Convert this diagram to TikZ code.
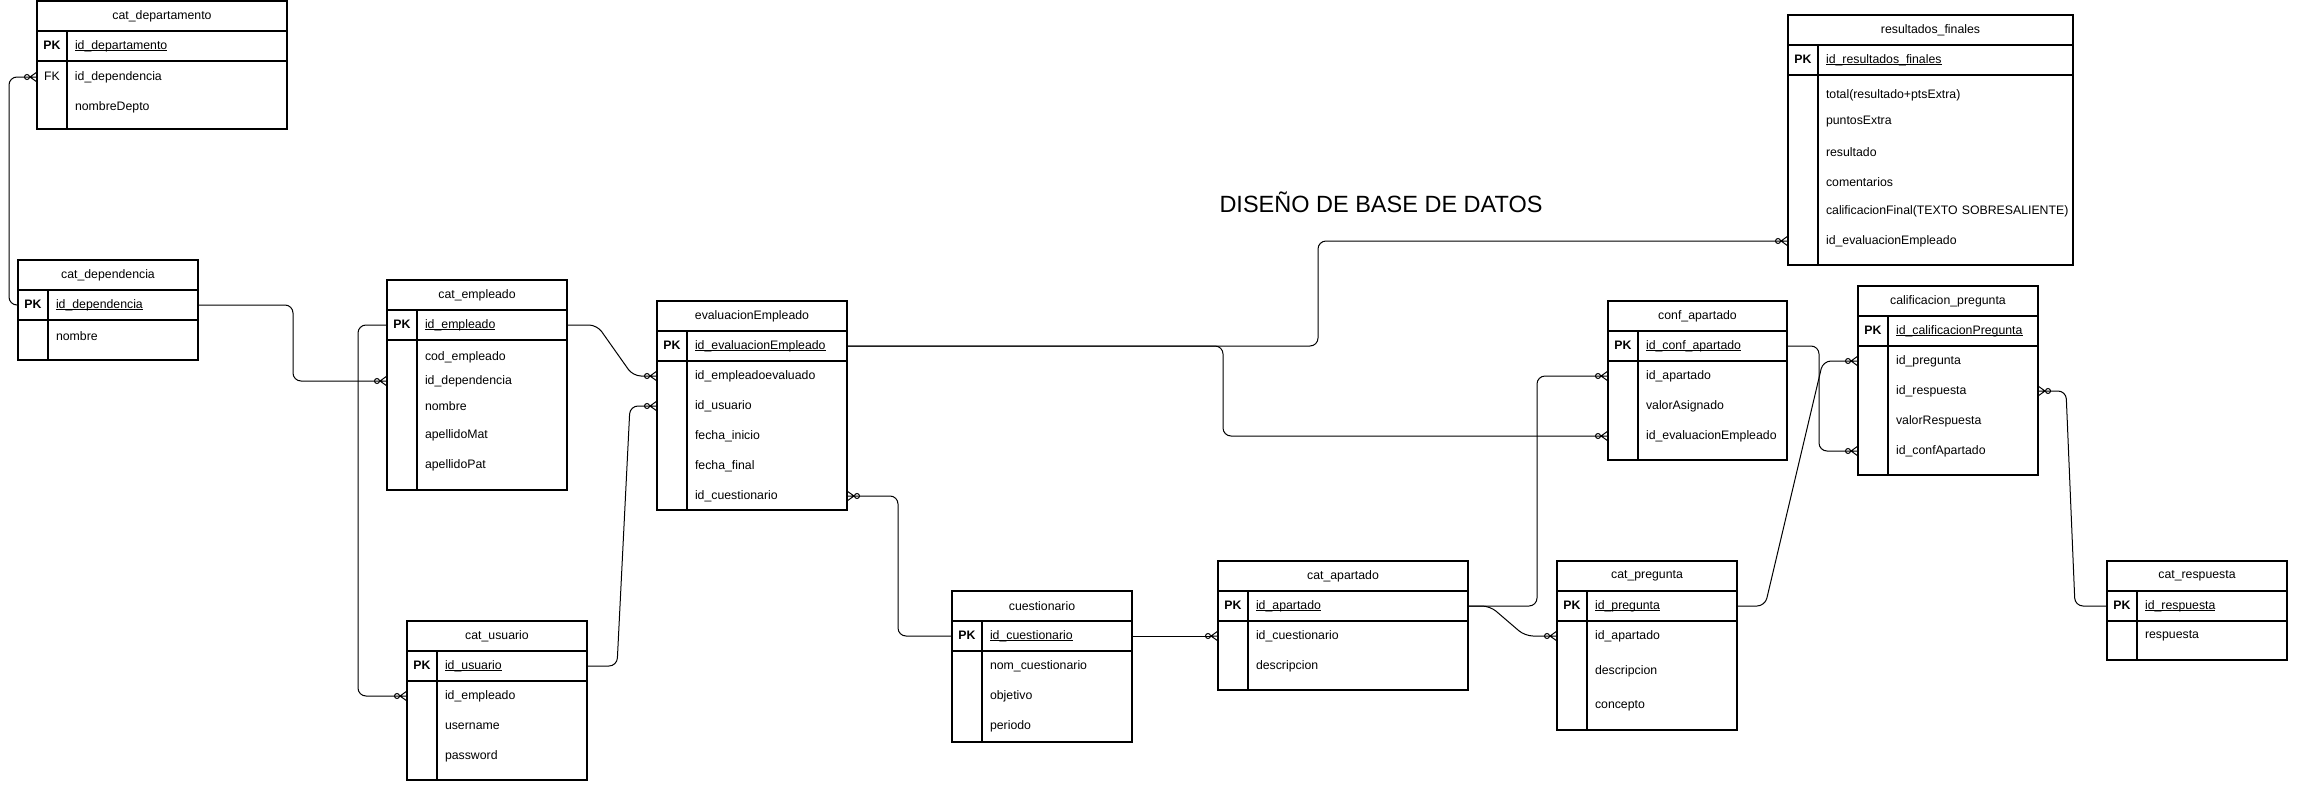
\documentclass[tikz,border=0pt]{standalone}
\usepackage{fontspec}
\setmainfont{Liberation Sans}
\usetikzlibrary{arrows.meta}
\usetikzlibrary{positioning}

\pgfdeclarearrow{
  name = CrowFoot,
  defaults = {length = 7pt, width = 10pt},
  parameters = {\the\pgfarrowlength,\the\pgfarrowwidth},
  setup code = {
    \pgfarrowssettipend{0pt}
    \pgfarrowssetbackend{-\pgfarrowlength}
    \pgfarrowssetlineend{-\pgfarrowlength}
    \pgfarrowsupperhullpoint{0pt}{.5\pgfarrowwidth}
    \pgfarrowshullpoint{-\pgfarrowlength}{0pt}
    \pgfarrowssavethe\pgfarrowlength
    \pgfarrowssavethe\pgfarrowwidth
  },
  drawing code = {
    \pgfpathmoveto{\pgfqpoint{0pt}{.5\pgfarrowwidth}}
    \pgfpathlineto{\pgfqpoint{-\pgfarrowlength}{0pt}}
    \pgfpathlineto{\pgfqpoint{0pt}{-.5\pgfarrowwidth}}
    \pgfpathmoveto{\pgfqpoint{-\pgfarrowlength}{0pt}}
    \pgfpathlineto{\pgfqpoint{0pt}{0pt}}
    \pgfusepathqstroke
  }
}

\newcommand{\keycell}[1]{\makebox[30pt]{#1}\hspace*{8pt}}
\newcommand{\pkname}[1]{\underline{\smash{#1}}}

\begin{document}
\begin{tikzpicture}[x=1pt,y=-1pt,
    every node/.style={font=\fontsize{12.3}{14}\selectfont, outer sep=0pt},
    tbltitle/.style={draw, line width=1.1pt, inner sep=0pt, minimum width=#1, minimum height=30pt, anchor=north west},
    pkrow/.style={draw, line width=1.1pt, inner sep=0pt, text width=#1, minimum height=30pt, align=left},
    tblbody/.style={draw, line width=1.1pt, inner sep=0pt, minimum width=#1},
    fld/.style={inner sep=0pt, text width=#1, align=left, anchor=west},
    divider/.style={line width=1.1pt},
    relline/.style={line width=1pt, rounded corners=8pt},
    tomany/.style={-{Circle[open,length=6pt,sep=0pt] CrowFoot[length=7pt,width=10pt]}}]
  \useasboundingbox (0,0) rectangle (2299,792);

  \node[font=\fontsize{23.5}{28}\selectfont] (heading) at (1381,202) {DISEÑO DE BASE DE DATOS};

  \node[tbltitle=250pt] (dpt) at (37,1) {cat\_departamento};
  \node[pkrow=250pt, below=0pt of dpt] (dpt-pk) {\keycell{\textbf{PK}}\pkname{id\_departamento}};
  \node[tblbody=250pt, minimum height=68pt, below=0pt of dpt-pk] (dpt-body) {};
  \draw[divider] ([xshift=30pt]dpt-pk.north west) -- ([xshift=30pt]dpt-body.south west);
  \node[fld=250pt] (dpt-fk) at (37,77) {\keycell{FK}id\_dependencia};
  \node[fld=250pt] (dpt-nom) at (37,107) {\keycell{}nombreDepto};

  \node[tbltitle=180pt] (dep) at (18,260) {cat\_dependencia};
  \node[pkrow=180pt, below=0pt of dep] (dep-pk) {\keycell{\textbf{PK}}\pkname{id\_dependencia}};
  \node[tblbody=180pt, minimum height=40pt, below=0pt of dep-pk] (dep-body) {};
  \draw[divider] ([xshift=30pt]dep-pk.north west) -- ([xshift=30pt]dep-body.south west);
  \node[fld=180pt] (dep-nom) at (18,336) {\keycell{}nombre};

  \node[tbltitle=180pt] (emp) at (387,280) {cat\_empleado};
  \node[pkrow=180pt, below=0pt of emp] (emp-pk) {\keycell{\textbf{PK}}\pkname{id\_empleado}};
  \node[tblbody=180pt, minimum height=150pt, below=0pt of emp-pk] (emp-body) {};
  \draw[divider] ([xshift=30pt]emp-pk.north west) -- ([xshift=30pt]emp-body.south west);
  \node[fld=180pt] (emp-cod) at (387,357) {\keycell{}cod\_empleado};
  \node[fld=180pt] (emp-dep) at (387,381) {\keycell{}id\_dependencia};
  \node[fld=180pt] (emp-nom) at (387,406) {\keycell{}nombre};
  \node[fld=180pt] (emp-mat) at (387,435) {\keycell{}apellidoMat};
  \node[fld=180pt] (emp-pat) at (387,465) {\keycell{}apellidoPat};

  \node[tbltitle=190pt] (eva) at (657,301) {evaluacionEmpleado};
  \node[pkrow=190pt, below=0pt of eva] (eva-pk) {\keycell{\textbf{PK}}\pkname{id\_evaluacionEmpleado}};
  \node[tblbody=190pt, minimum height=149pt, below=0pt of eva-pk] (eva-body) {};
  \draw[divider] ([xshift=30pt]eva-pk.north west) -- ([xshift=30pt]eva-body.south west);
  \node[fld=190pt] (eva-emp) at (657,376) {\keycell{}id\_empleadoevaluado};
  \node[fld=190pt] (eva-usu) at (657,406) {\keycell{}id\_usuario};
  \node[fld=190pt] (eva-ini) at (657,436) {\keycell{}fecha\_inicio};
  \node[fld=190pt] (eva-fin) at (657,466) {\keycell{}fecha\_final};
  \node[fld=190pt] (eva-cue) at (657,496) {\keycell{}id\_cuestionario};

  \node[tbltitle=180pt] (usu) at (407,621) {cat\_usuario};
  \node[pkrow=180pt, below=0pt of usu] (usu-pk) {\keycell{\textbf{PK}}\pkname{id\_usuario}};
  \node[tblbody=180pt, minimum height=99pt, below=0pt of usu-pk] (usu-body) {};
  \draw[divider] ([xshift=30pt]usu-pk.north west) -- ([xshift=30pt]usu-body.south west);
  \node[fld=180pt] (usu-emp) at (407,696) {\keycell{}id\_empleado};
  \node[fld=180pt] (usu-user) at (407,726) {\keycell{}username};
  \node[fld=180pt] (usu-pass) at (407,756) {\keycell{}password};

  \node[tbltitle=180pt] (cue) at (952,591) {cuestionario};
  \node[pkrow=180pt, below=0pt of cue] (cue-pk) {\keycell{\textbf{PK}}\pkname{id\_cuestionario}};
  \node[tblbody=180pt, minimum height=91pt, below=0pt of cue-pk] (cue-body) {};
  \draw[divider] ([xshift=30pt]cue-pk.north west) -- ([xshift=30pt]cue-body.south west);
  \node[fld=180pt] (cue-nom) at (952,666) {\keycell{}nom\_cuestionario};
  \node[fld=180pt] (cue-obj) at (952,696) {\keycell{}objetivo};
  \node[fld=180pt] (cue-per) at (952,726) {\keycell{}periodo};

  \node[tbltitle=250pt] (apa) at (1218,561) {cat\_apartado};
  \node[pkrow=250pt, below=0pt of apa] (apa-pk) {\keycell{\textbf{PK}}\pkname{id\_apartado}};
  \node[tblbody=250pt, minimum height=69pt, below=0pt of apa-pk] (apa-body) {};
  \draw[divider] ([xshift=30pt]apa-pk.north west) -- ([xshift=30pt]apa-body.south west);
  \node[fld=250pt] (apa-cue) at (1218,636) {\keycell{}id\_cuestionario};
  \node[fld=250pt] (apa-des) at (1218,666) {\keycell{}descripcion};

  \node[tbltitle=180pt] (pre) at (1557,561) {cat\_pregunta};
  \node[pkrow=180pt, below=0pt of pre] (pre-pk) {\keycell{\textbf{PK}}\pkname{id\_pregunta}};
  \node[tblbody=180pt, minimum height=109pt, below=0pt of pre-pk] (pre-body) {};
  \draw[divider] ([xshift=30pt]pre-pk.north west) -- ([xshift=30pt]pre-body.south west);
  \node[fld=180pt] (pre-apa) at (1557,636) {\keycell{}id\_apartado};
  \node[fld=180pt] (pre-des) at (1557,671) {\keycell{}descripcion};
  \node[fld=180pt] (pre-con) at (1557,706) {\keycell{}concepto};

  \node[tbltitle=179pt] (cnf) at (1608,301) {conf\_apartado};
  \node[pkrow=179pt, below=0pt of cnf] (cnf-pk) {\keycell{\textbf{PK}}\pkname{id\_conf\_apartado}};
  \node[tblbody=179pt, minimum height=99pt, below=0pt of cnf-pk] (cnf-body) {};
  \draw[divider] ([xshift=30pt]cnf-pk.north west) -- ([xshift=30pt]cnf-body.south west);
  \node[fld=179pt] (cnf-apa) at (1608,376) {\keycell{}id\_apartado};
  \node[fld=179pt] (cnf-val) at (1608,406) {\keycell{}valorAsignado};
  \node[fld=179pt] (cnf-eva) at (1608,436) {\keycell{}id\_evaluacionEmpleado};

  \node[tbltitle=180pt] (cal) at (1858,286) {calificacion\_pregunta};
  \node[pkrow=180pt, below=0pt of cal] (cal-pk) {\keycell{\textbf{PK}}\pkname{id\_calificacionPregunta}};
  \node[tblbody=180pt, minimum height=129pt, below=0pt of cal-pk] (cal-body) {};
  \draw[divider] ([xshift=30pt]cal-pk.north west) -- ([xshift=30pt]cal-body.south west);
  \node[fld=180pt] (cal-pre) at (1858,361) {\keycell{}id\_pregunta};
  \node[fld=180pt] (cal-res) at (1858,391) {\keycell{}id\_respuesta};
  \node[fld=180pt] (cal-val) at (1858,421) {\keycell{}valorRespuesta};
  \node[fld=180pt] (cal-cnf) at (1858,451) {\keycell{}id\_confApartado};

  \node[tbltitle=180pt] (rsp) at (2107,561) {cat\_respuesta};
  \node[pkrow=180pt, below=0pt of rsp] (rsp-pk) {\keycell{\textbf{PK}}\pkname{id\_respuesta}};
  \node[tblbody=180pt, minimum height=39pt, below=0pt of rsp-pk] (rsp-body) {};
  \draw[divider] ([xshift=30pt]rsp-pk.north west) -- ([xshift=30pt]rsp-body.south west);
  \node[fld=180pt] (rsp-txt) at (2107,636) {\keycell{}respuesta};

  \node[tbltitle=285pt] (res) at (1788,15) {resultados\_finales};
  \node[pkrow=285pt, below=0pt of res] (res-pk) {\keycell{\textbf{PK}}\pkname{id\_resultados\_finales}};
  \node[tblbody=285pt, minimum height=190pt, below=0pt of res-pk] (res-body) {};
  \draw[divider] ([xshift=30pt]res-pk.north west) -- ([xshift=30pt]res-body.south west);
  \node[fld=285pt] (res-tot) at (1788,95) {\keycell{}total(resultado+ptsExtra)};
  \node[fld=285pt] (res-ext) at (1788,122) {\keycell{}puntosExtra};
  \node[fld=285pt] (res-rsl) at (1788,152) {\keycell{}resultado};
  \node[fld=285pt] (res-com) at (1788,182) {\keycell{}comentarios};
  \node[fld=285pt] (res-cal) at (1788,211) {\keycell{}calificacionFinal(TEXTO SOBRESALIENTE)};
  \node[fld=285pt] (res-eva) at (1788,241) {\keycell{}id\_evaluacionEmpleado};

  \draw[relline, tomany] (dep-pk.west) -- ++(-9,0) |- (dpt-fk.west);
  \draw[relline, tomany] (dep-pk.east) -- ++(95,0) |- (emp-dep.west);
  \draw[relline, tomany] (emp-pk.east) -- ++(30,0) -- ([xshift=-24pt]eva-emp.west) -- (eva-emp.west);
  \draw[relline, tomany] (emp-pk.west) -- ++(-29,0) |- (usu-emp.west);
  \draw[relline, tomany] (usu-pk.east) -- ++(30,0) -- ([xshift=-27pt]eva-usu.west) -- (eva-usu.west);
  \draw[relline, tomany] (cue-pk.west) -- ++(-54,0) |- (eva-cue.east);
  \draw[relline, tomany] (eva-pk.east) -- ++(471,0) |- (res-eva.west);
  \draw[relline, tomany] (eva-pk.east) -- ++(376,0) |- (cnf-eva.west);
  \draw[relline, tomany] (cue-pk.east) -- (apa-cue.west);
  \draw[relline, tomany] (apa-pk.east) -- ++(69,0) |- (cnf-apa.west);
  \draw[relline, tomany] (apa-pk.east) -- ++(22,0) -- ([xshift=-32pt]pre-apa.west) -- (pre-apa.west);
  \draw[relline, tomany] (pre-pk.east) -- ++(28,0) -- ([xshift=-35pt]cal-pre.west) -- (cal-pre.west);
  \draw[relline, tomany] (cnf-pk.east) -- ++(32,0) |- (cal-cnf.west);
  \draw[relline, tomany] (rsp-pk.west) -- ++(-32,0) -- ([xshift=28pt]cal-res.east) -- (cal-res.east);
\end{tikzpicture}
\end{document}
